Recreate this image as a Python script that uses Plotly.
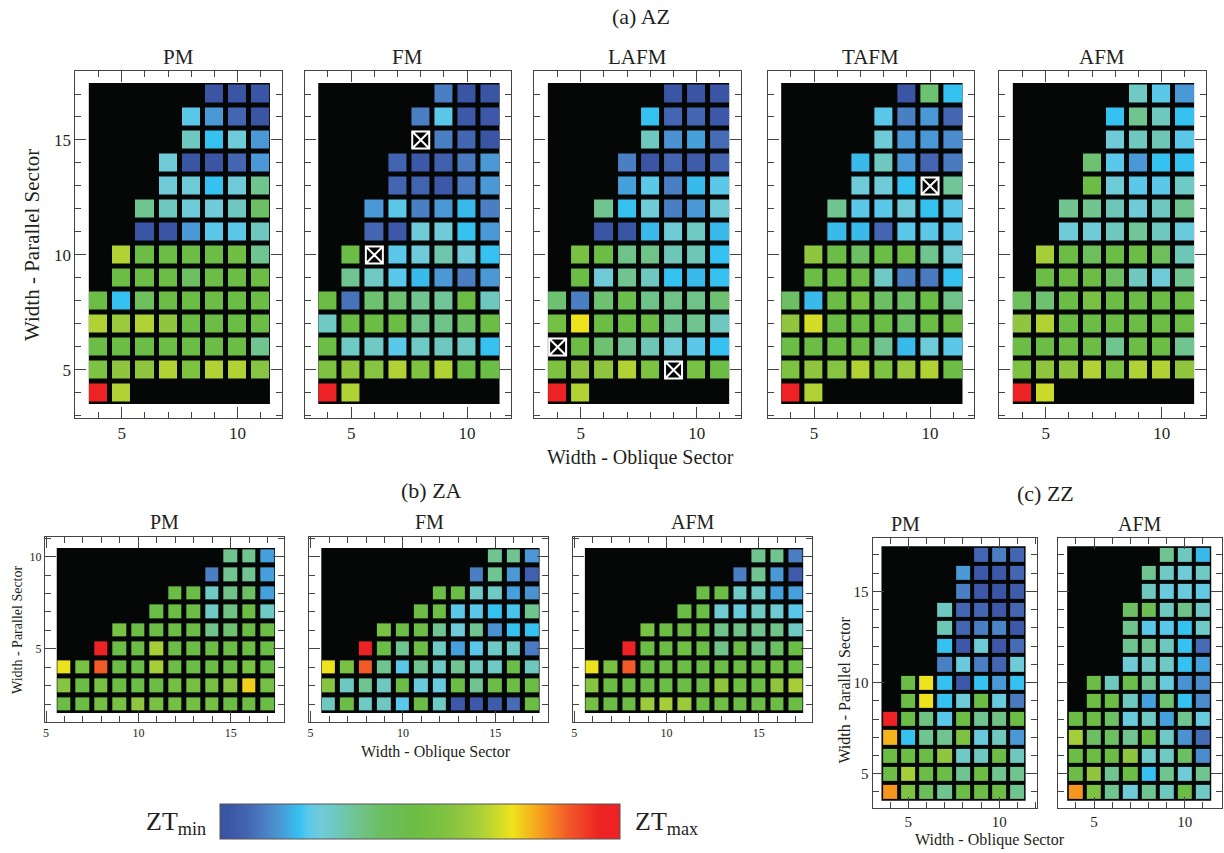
import plotly.graph_objects as go

W, H = 1224, 853
n = None

# ---------------- data (ZT normalised 0..1, rows listed from top to bottom) ----------------
az_x = [4, 5, 6, 7, 8, 9, 10, 11]
az_y = [17, 16, 15, 14, 13, 12, 11, 10, 9, 8, 7, 6, 5, 4]

az_pm = [
    [n, n, n, n, n, .02, .02, .02],
    [n, n, n, n, .22, .15, .07, .02],
    [n, n, n, n, .29, .20, .25, .15],
    [n, n, n, .25, .02, .02, .07, .15],
    [n, n, n, .25, .25, .20, .25, .34],
    [n, n, .34, .29, .25, .25, .29, .40],
    [n, n, .02, .02, .15, .22, .22, .29],
    [n, .66, .48, .48, .48, .48, .50, .34],
    [n, .48, .48, .48, .40, .48, .48, .48],
    [.48, .20, .42, .48, .48, .48, .48, .48],
    [.66, .62, .66, .60, .48, .48, .48, .48],
    [.48, .48, .48, .48, .48, .48, .48, .34],
    [.56, .60, .60, .66, .56, .66, .66, .58],
    [.95, .66, n, n, n, n, n, n],
]
az_fm = [
    [n, n, n, n, n, .11, .02, .02],
    [n, n, n, n, .11, .22, .03, .03],
    [n, n, n, n, n, .11, .07, .02],
    [n, n, n, .06, .03, .05, .10, .15],
    [n, n, n, .07, .06, .03, .10, .15],
    [n, n, .15, .22, .11, .15, .19, .11],
    [n, n, .07, .03, .25, .25, .20, .15],
    [n, .48, n, .22, .25, .31, .25, .20],
    [n, .34, .28, .22, .19, .15, .11, .15],
    [.48, .09, .38, .38, .34, .33, .48, .29],
    [.28, .48, .48, .48, .35, .35, .40, .48],
    [.48, .28, .28, .22, .28, .29, .28, .20],
    [.56, .60, .58, .66, .56, .66, .48, .48],
    [.95, .66, n, n, n, n, n, n],
]
az_lafm = [
    [n, n, n, n, n, .02, .02, .02],
    [n, n, n, n, .20, .07, .07, .03],
    [n, n, n, n, .29, .14, .16, .08],
    [n, n, n, .11, .02, .07, .04, .07],
    [n, n, n, .16, .22, .11, .19, .22],
    [n, n, .34, .20, .25, .11, .15, .25],
    [n, n, .02, .02, .19, .25, .28, .19],
    [n, .54, .48, .35, .35, .30, .30, .20],
    [n, .48, .25, .34, .29, .20, .19, .20],
    [.38, .11, .38, .46, .35, .35, .35, .38],
    [.52, .73, .48, .48, .48, .34, .34, .29],
    [n, .48, .38, .34, .30, .25, .22, .20],
    [.56, .60, .60, .66, .56, n, .54, .48],
    [.95, .66, n, n, n, n, n, n],
]
az_tafm = [
    [n, n, n, n, n, .02, .38, .20],
    [n, n, n, n, .22, .11, .15, .07],
    [n, n, n, n, .25, .15, .15, .13],
    [n, n, n, .19, .29, .15, .07, .10],
    [n, n, n, .25, .25, .20, n, .33],
    [n, n, .34, .22, .22, .25, .20, .22],
    [n, n, .19, .19, .07, .22, .22, .22],
    [n, .60, .48, .40, .48, .48, .34, .26],
    [n, .48, .48, .48, .28, .11, .10, .20],
    [.40, .19, .48, .54, .40, .40, .48, .35],
    [.60, .70, .48, .48, .48, .40, .48, .48],
    [.48, .48, .48, .48, .34, .19, .25, .22],
    [.56, .60, .58, .66, .56, .62, .66, .48],
    [.95, .66, n, n, n, n, n, n],
]
az_afm = [
    [n, n, n, n, n, .28, .22, .15],
    [n, n, n, n, .20, .34, .29, .20],
    [n, n, n, n, .25, .29, .30, .22],
    [n, n, n, .38, .22, .15, .20, .20],
    [n, n, n, .48, .25, .22, .22, .28],
    [n, n, .34, .34, .30, .25, .29, .34],
    [n, n, .25, .25, .29, .33, .29, .24],
    [n, .64, .48, .42, .48, .48, .42, .30],
    [n, .48, .48, .48, .40, .29, .25, .34],
    [.42, .38, .48, .54, .48, .48, .48, .48],
    [.60, .66, .48, .48, .48, .48, .48, .48],
    [.48, .48, .48, .48, .34, .48, .48, .34],
    [.56, .60, .60, .66, .56, .66, .66, .60],
    [.95, .69, n, n, n, n, n, n],
]
# cells marked with a crossed box (not computed)
az_fm_cross_x, az_fm_cross_y = [8, 6], [15, 10]
az_lafm_cross_x, az_lafm_cross_y = [4, 9], [6, 5]
az_tafm_cross_x, az_tafm_cross_y = [10], [13]

za_x = [6, 7, 8, 9, 10, 11, 12, 13, 14, 15, 16, 17]
za_y = [10, 9, 8, 7, 6, 5, 4, 3, 2]
za_pm = [
    [n, n, n, n, n, n, n, n, n, .34, .34, .16],
    [n, n, n, n, n, n, n, n, .11, .34, .34, .16],
    [n, n, n, n, n, n, .48, .48, .28, .35, .40, .16],
    [n, n, n, n, n, .48, .48, .48, .28, .36, .48, .28],
    [n, n, n, .54, .48, .48, .48, .48, .35, .38, .48, .48],
    [n, n, .95, .48, .48, .64, .48, .48, .48, .48, .48, .48],
    [.73, .54, .87, .48, .48, .64, .48, .48, .48, .48, .54, .48],
    [.58, .48, .54, .48, .48, .48, .52, .52, .52, .58, .75, .52],
    [.48, .48, .52, .54, .60, .54, .52, .52, .52, .48, .48, .48],
]
za_fm = [
    [n, n, n, n, n, n, n, n, n, .34, .34, .15],
    [n, n, n, n, n, n, n, n, .11, .34, .15, .05],
    [n, n, n, n, n, n, .48, .48, .28, .28, .16, .14],
    [n, n, n, n, n, .48, .48, .22, .22, .20, .21, .34],
    [n, n, n, .54, .48, .48, .34, .25, .34, .14, .20, .20],
    [n, n, .95, .48, .34, .48, .28, .16, .22, .28, .28, .10],
    [.73, .54, .87, .34, .22, .34, .28, .34, .29, .28, .48, .29],
    [.58, .29, .34, .29, .48, .24, .24, .48, .34, .48, .48, .48],
    [.29, .48, .28, .29, .22, .48, .28, .03, .03, .04, .08, .48],
]
za_afm = [
    [n, n, n, n, n, n, n, n, n, .34, .34, .11],
    [n, n, n, n, n, n, n, n, .11, .34, .15, .04],
    [n, n, n, n, n, n, .48, .48, .28, .28, .16, .16],
    [n, n, n, n, n, .48, .48, .26, .24, .28, .26, .22],
    [n, n, n, .54, .48, .48, .48, .35, .35, .34, .35, .28],
    [n, n, .95, .48, .48, .50, .48, .35, .48, .36, .40, .48],
    [.73, .54, .87, .48, .48, .48, .48, .48, .48, .48, .50, .48],
    [.58, .48, .48, .48, .48, .48, .48, .60, .50, .48, .60, .64],
    [.52, .48, .48, .62, .64, .62, .48, .50, .48, .48, .48, .48],
]

zz_x = [4, 5, 6, 7, 8, 9, 10, 11]
zz_y = [17, 16, 15, 14, 13, 12, 11, 10, 9, 8, 7, 6, 5, 4]
zz_pm = [
    [n, n, n, n, n, .07, .11, .07],
    [n, n, n, n, .15, .03, .03, .07],
    [n, n, n, n, .11, .03, .02, .04],
    [n, n, n, .29, .07, .07, .03, .07],
    [n, n, n, .30, .07, .11, .12, .03],
    [n, n, n, .20, .03, .25, .03, .08],
    [n, n, n, .11, .24, .11, .07, .25],
    [n, .48, .73, .20, .03, .20, .15, .20],
    [n, .48, .73, .20, .25, .48, .24, .10],
    [.95, .48, .36, .22, .48, .34, .36, .48],
    [.78, .20, .34, .34, .56, .24, .29, .15],
    [.48, .48, .48, .60, .28, .29, .48, .29],
    [.48, .64, .48, .48, .34, .48, .34, .34],
    [.81, .56, .42, .34, .48, .48, .48, .34],
]
zz_afm = [
    [n, n, n, n, n, .34, .29, .19],
    [n, n, n, n, .34, .28, .25, .28],
    [n, n, n, n, .29, .24, .24, .23],
    [n, n, n, .40, .44, .29, .35, .28],
    [n, n, n, .34, .22, .22, .20, .28],
    [n, n, n, .34, .34, .29, .20, .08],
    [n, n, n, .25, .28, .28, .20, .16],
    [n, .48, .29, .46, .34, .24, .14, .13],
    [n, .48, .48, .29, .16, .38, .20, .13],
    [.48, .48, .40, .24, .28, .16, .34, .24],
    [.64, .40, .40, .34, .48, .28, .14, .08],
    [.48, .48, .48, .60, .27, .28, .40, .13],
    [.48, .60, .34, .48, .20, .34, .25, .34],
    [.81, .56, .34, .25, .34, .29, .48, .28],
]

colorscale = [
    [0.00, "#3a52a3"], [0.02, "#3b55a5"], [0.07, "#4466b2"], [0.11, "#4a7fc3"],
    [0.15, "#4a98d5"], [0.20, "#35c2f1"], [0.22, "#5bc8e9"], [0.25, "#70cbd9"],
    [0.29, "#6ec8bf"], [0.34, "#70c490"], [0.40, "#6cbf62"], [0.48, "#6bbd45"],
    [0.56, "#7ec242"], [0.60, "#90c63f"], [0.66, "#b1d235"], [0.73, "#ede31c"],
    [0.80, "#f8a01d"], [0.87, "#f15a29"], [0.95, "#ed2224"], [1.00, "#ed2224"],
]

FONT = "Liberation Serif"
TXT = "#231f20"

def fx(p):
    return p / W

def fy(p):
    return 1 - p / H

fig = go.Figure()

# panel specs: (z, xs, ys, frame px (x0,x1,y0,y1), xrange, yrange, gap, pad(x,y), tickfont, show_ylabels, crosses)
panels = [
    (az_pm, az_x, az_y, (73.5, 280, 71, 418), (3.0, 11.9), (2.91, 18.0), 5, (0.42, 0.48), 17, True, None),
    (az_fm, az_x, az_y, (303.3, 510, 71, 418), (3.0, 11.9), (2.91, 18.0), 5, (0.42, 0.48), 17, False, (az_fm_cross_x, az_fm_cross_y)),
    (az_lafm, az_x, az_y, (533.3, 740, 71, 418), (3.0, 11.9), (2.91, 18.0), 5, (0.42, 0.48), 17, False, (az_lafm_cross_x, az_lafm_cross_y)),
    (az_tafm, az_x, az_y, (767, 973.7, 71, 418), (3.0, 11.9), (2.91, 18.0), 5, (0.42, 0.48), 17, False, (az_tafm_cross_x, az_tafm_cross_y)),
    (az_afm, az_x, az_y, (999, 1205.7, 71, 418), (3.0, 11.9), (2.91, 18.0), 5, (0.42, 0.48), 17, False, None),
    (za_pm, za_x, za_y, (43, 282, 537, 722), (4.94, 17.86), (1.04, 11.06), 5, (0.42, 0.47), 12, True, None),
    (za_fm, za_x, za_y, (308, 547, 537, 722), (4.94, 17.86), (1.04, 11.06), 5, (0.42, 0.47), 12, False, None),
    (za_afm, za_x, za_y, (572, 811, 537, 722), (4.94, 17.86), (1.04, 11.06), 5, (0.42, 0.47), 12, False, None),
    (zz_pm, zz_x, zz_y, (872, 1037, 538, 808), (3.03, 12.1), (3.12, 17.93), 4, (0.48, 0.48), 15, True, None),
    (zz_afm, zz_x, zz_y, (1058, 1222, 538, 808), (3.03, 12.05), (3.12, 17.93), 4, (0.48, 0.48), 15, False, None),
]

shapes = []
for i, (z, xs, ys, fr, xr, yr, gap, pad, tfs, showy, crosses) in enumerate(panels):
    k = "" if i == 0 else str(i + 1)
    xa, ya = "x" + k, "y" + k
    zz = z[::-1]
    yy = ys[::-1]
    fig.add_trace(go.Heatmap(
        z=zz, x=xs, y=yy, zmin=0, zmax=1, colorscale=colorscale,
        xgap=gap, ygap=gap, showscale=(i == 0), hoverinfo="skip",
        xaxis=xa, yaxis=ya,
        colorbar=dict(orientation="h", x=fx(419), y=fy(822), xanchor="center", yanchor="middle",
                      lenmode="pixels", len=420, thickness=35, showticklabels=False, ticks="",
                      outlinewidth=1, outlinecolor="#555"),
    ))
    if crosses is not None:
        fig.add_trace(go.Scatter(
            x=crosses[0], y=crosses[1], mode="markers", xaxis=xa, yaxis=ya, hoverinfo="skip",
            marker=dict(symbol="square-x", size=17, color="#050505", line=dict(color="white", width=2)),
            showlegend=False,
        ))
    shapes.append(dict(type="rect", xref=xa, yref=ya, layer="below",
                       x0=min(xs) - pad[0], x1=max(xs) + pad[0] * 0.95,
                       y0=min(ys) - pad[1], y1=max(ys) + pad[1],
                       fillcolor="#050606", line=dict(width=0)))
    axcommon = dict(showline=True, linecolor="#444", linewidth=1, mirror="allticks",
                    ticks="inside", ticklen=11, tickcolor="#444", showgrid=False, zeroline=False,
                    tick0=0, dtick=5, tickfont=dict(family=FONT, size=tfs, color=TXT),
                    minor=dict(dtick=1, tick0=0, ticks="inside", ticklen=6, tickcolor="#444", showgrid=False))
    fig.update_layout(**{
        ("xaxis" + k): dict(domain=[fx(fr[0]), fx(fr[1])], range=list(xr), anchor=ya, **axcommon),
        ("yaxis" + k): dict(domain=[fy(fr[3]), fy(fr[2])], range=list(yr), anchor=xa,
                            showticklabels=showy, **axcommon),
    })

ann = []
def text(t, x, y, size, angle=0):
    ann.append(dict(text=t, x=fx(x), y=fy(y), xref="paper", yref="paper", showarrow=False,
                    textangle=angle, xanchor="center", yanchor="middle",
                    font=dict(family=FONT, size=size, color=TXT)))

text("(a) AZ", 640, 17, 22)
for name, cx in [("PM", 177), ("FM", 406), ("LAFM", 637), ("TAFM", 870), ("AFM", 1102)]:
    text(name, cx, 57, 21)
text("Width - Oblique Sector", 640, 458, 20)
text("Width - Parallel Sector", 30, 245, 21, -90)

text("(b) ZA", 430, 490, 22)
for name, cx in [("PM", 163), ("FM", 428), ("AFM", 692)]:
    text(name, cx, 522, 20)
text("Width - Oblique Sector", 435, 752, 16)
text("Width - Parallel Sector", 15, 630, 14, -90)

text("(c) ZZ", 1045, 493, 22)
text("PM", 905, 524, 20)
text("AFM", 1140, 524, 20)
text("Width - Oblique Sector", 990, 840, 16)
text("Width - Parallel Sector", 843, 690, 16, -90)

ann.append(dict(text="ZT<sub>min</sub>", x=fx(206), y=fy(823), xref="paper", yref="paper",
                showarrow=False, xanchor="right", yanchor="middle",
                font=dict(family=FONT, size=26, color=TXT)))
ann.append(dict(text="ZT<sub>max</sub>", x=fx(632), y=fy(823), xref="paper", yref="paper",
                showarrow=False, xanchor="left", yanchor="middle",
                font=dict(family=FONT, size=26, color=TXT)))

fig.update_layout(width=W, height=H, margin=dict(l=0, r=0, t=0, b=0),
                  paper_bgcolor="white", plot_bgcolor="white", showlegend=False,
                  shapes=shapes, annotations=ann,
                  font=dict(family=FONT, color=TXT))

fig.write_html("out.html", config={"displayModeBar": False},
               post_script="document.body.style.margin='0';document.body.style.overflow='hidden';")
